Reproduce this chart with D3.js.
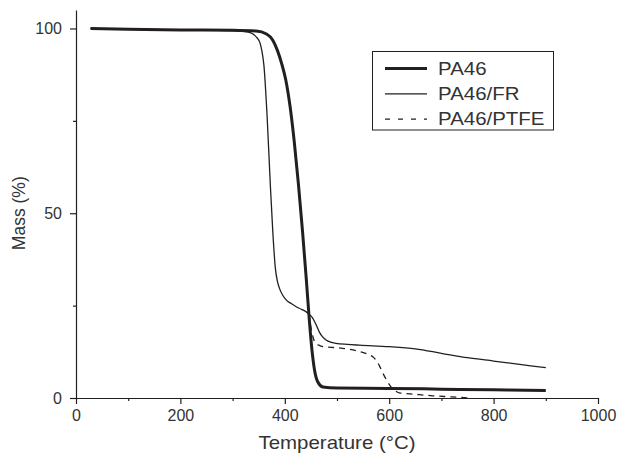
<!DOCTYPE html>
<html>
<head>
<meta charset="utf-8">
<script src="https://cdn.jsdelivr.net/npm/d3@7"></script>
<style>
  html, body { margin: 0; padding: 0; background: #fff; }
  svg { display: block; }
  text { font-family: "Liberation Sans", Arial, Helvetica, sans-serif; fill: #333; }
</style>
</head>
<body>
<svg id="chart" width="619" height="460"></svg>
<script>
// ---- data ----
const seriesNames = ["PA46", "PA46/FR", "PA46/PTFE"];

const pa46T = [28, 100, 200, 300, 345, 365, 377, 386, 394, 402, 410, 418, 426, 434, 441, 447, 452, 457, 463, 473, 500, 600, 700, 800, 900];
const pa46M = [100, 99.8, 99.6, 99.5, 99.3, 98.5, 96.8, 94, 90.5, 86, 79, 69.5, 58, 45, 32.5, 21, 13, 7.5, 4.4, 3.0, 2.7, 2.6, 2.4, 2.2, 2.0];

const frT = [28, 100, 200, 300, 330, 339, 346, 352, 356, 360, 366, 372, 377, 382, 386, 390, 396, 403, 413, 422, 432, 441, 448, 454, 460, 466, 472, 479, 488, 498, 520, 543, 600, 650, 700, 750, 800, 850, 900];
const frM = [100, 99.8, 99.6, 99.4, 99.0, 98.5, 97.6, 96.3, 94, 90, 76.5, 58.5, 45, 35, 31.5, 29.6, 27.8, 26.5, 25.5, 24.7, 24.0, 23.3, 22.5, 21.5, 19.8, 17.9, 16.6, 15.7, 15.1, 14.8, 14.5, 14.3, 13.9, 13.3, 12.1, 10.9, 10.0, 9.1, 8.2];

const ptfeT = [28, 100, 200, 300, 345, 365, 377, 386, 394, 402, 410, 418, 426, 434, 441, 446, 450, 454, 458, 465, 473, 500, 543, 560, 570, 576, 582, 588, 596, 603, 611, 619, 650, 683, 720, 752];
const ptfeM = [100, 99.8, 99.6, 99.5, 99.3, 98.5, 96.8, 94, 90.5, 86, 79, 69.5, 58, 45, 32.5, 23.5, 19.2, 16.5, 15.0, 14.3, 13.9, 13.6, 12.6, 11.8, 11.0, 10.0, 8.5, 6.7, 4.6, 3.1, 2.0, 1.4, 1.0, 0.6, 0.3, 0.0];

const xTicks = [0, 200, 400, 600, 800, 1000];
const xMinor = [100, 300, 500, 700, 900];
const yTicks = [0, 50, 100];
const yMinor = [25, 75];

// ---- layout ----
const svg = d3.select("#chart");
const x = d3.scaleLinear().domain([0, 1000]).range([76, 598]);
const y = d3.scaleLinear().domain([0, 105]).range([398, 10]);
const ink = "#231f20";
const wide = 1.17; // horizontal stretch of the legend / title lettering

// minor ticks
svg.append("g").attr("transform", "translate(0,398)")
  .call(d3.axisBottom(x).tickValues(xMinor).tickSize(3).tickFormat(""))
  .call(g => g.select(".domain").remove())
  .call(g => g.selectAll("line").attr("stroke", ink).attr("stroke-width", 1.2));
svg.append("g").attr("transform", "translate(76,0)")
  .call(d3.axisLeft(y).tickValues(yMinor).tickSize(3).tickFormat(""))
  .call(g => g.select(".domain").remove())
  .call(g => g.selectAll("line").attr("stroke", ink).attr("stroke-width", 1.2));

// major axes
const xAxis = svg.append("g").attr("transform", "translate(0,398)")
  .call(d3.axisBottom(x).tickValues(xTicks).tickSize(6).tickSizeOuter(0).tickPadding(6).tickFormat(d3.format("d")));
const yAxis = svg.append("g").attr("transform", "translate(76,0)")
  .call(d3.axisLeft(y).tickValues(yTicks).tickSize(6).tickSizeOuter(0).tickPadding(8).tickFormat(d3.format("d")));
[xAxis, yAxis].forEach(a => {
  a.select(".domain").attr("stroke", ink).attr("stroke-width", 1.2);
  a.selectAll(".tick line").attr("stroke", ink).attr("stroke-width", 1.2);
  a.selectAll(".tick text").attr("font-size", 16).attr("fill", "#333")
    .attr("font-family", "Liberation Sans, Arial, sans-serif");
});

// axis titles
svg.append("text").attr("transform", `translate(${x(500)},449) scale(${wide},1)`)
  .attr("text-anchor", "middle").attr("font-size", 17.5).text("Temperature (°C)");
svg.append("text").attr("transform", `translate(25,${y(50)}) rotate(-90)`)
  .attr("text-anchor", "middle").attr("font-size", 17.5).text("Mass (%)");

// curves
const line = d3.line().x(d => x(d[0])).y(d => y(d[1])).curve(d3.curveMonotoneX);
const series = [
  { T: ptfeT, M: ptfeM, w: 1.3, dash: "6,5" },
  { T: frT, M: frM, w: 1.3, dash: null },
  { T: pa46T, M: pa46M, w: 3, dash: null }
];
series.forEach(s => {
  svg.append("path").datum(s.T.map((t, i) => [t, s.M[i]]))
    .attr("fill", "none").attr("stroke", ink).attr("stroke-width", s.w)
    .attr("stroke-dasharray", s.dash).attr("stroke-linejoin", "round")
    .attr("d", line);
});

// legend
const lg = svg.append("g");
lg.append("rect").attr("x", 372.5).attr("y", 51.5).attr("width", 181).attr("height", 78.5)
  .attr("fill", "#fff").attr("stroke", ink).attr("stroke-width", 1);
const legendStyles = [{ w: 3, dash: null }, { w: 1.3, dash: null }, { w: 1.3, dash: "5,8" }];
seriesNames.forEach((name, i) => {
  const ly = 68.5 + i * 25.3;
  lg.append("line").attr("x1", 385).attr("x2", 427).attr("y1", ly).attr("y2", ly)
    .attr("stroke", ink).attr("stroke-width", legendStyles[i].w)
    .attr("stroke-dasharray", legendStyles[i].dash);
  lg.append("text").attr("transform", `translate(438,${ly + 6.3}) scale(${wide},1)`)
    .attr("font-size", 17.5).text(name);
});
</script>
</body>
</html>
